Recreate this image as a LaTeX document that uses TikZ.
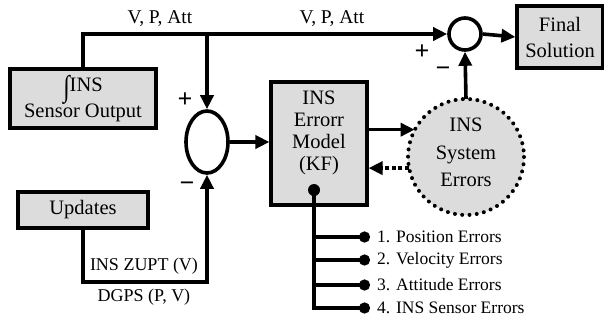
\documentclass[tikz,border=0pt]{standalone}
\usepackage{graphicx}
\usepackage{fontspec}
\setmainfont{Liberation Serif}
\usetikzlibrary{arrows.meta,shapes.geometric}
\definecolor{boxgray}{RGB}{220,220,220}
\newcommand{\bigint}{\raisebox{-0.22em}{\scalebox{1.15}[1.45]{∫}}}
\begin{document}
\begin{tikzpicture}[x=1pt,y=-1pt,
  blk/.style={draw, line width=3.2pt, fill=boxgray, inner sep=0pt, align=center},
  txt/.style={inner sep=0pt, align=center, font=\fontsize{20.5}{26}\selectfont},
  lbl/.style={inner sep=0pt, font=\fontsize{18}{20}\selectfont},
  sml/.style={inner sep=0pt, anchor=west, font=\fontsize{17.5}{20}\selectfont},
  sgn/.style={inner sep=0pt, font=\fontsize{26}{26}\selectfont\bfseries},
  ln/.style={line width=3.6pt},
  arr/.style={ln, -{Triangle[length=14pt,width=13pt]}},
  darr/.style={ln, dash pattern=on 4pt off 2.5pt, -{Triangle[length=14pt,width=13pt]}},
  dotend/.style={ln, -{Circle[length=11pt,width=11pt]}}
]
\useasboundingbox (0,0) rectangle (604,322);

% blocks
\node[blk, minimum width=146pt, minimum height=59pt, txt] (sens) at (83,98.5) {\bigint INS\\[-1pt]Sensor Output};
\node[blk, minimum width=130pt, minimum height=36pt, txt] (upd) at (83,210) {Updates};
\node[blk, minimum width=96pt, minimum height=123pt] (kf) at (319,143.5) {};
\node[txt, font=\fontsize{20.5}{22}\selectfont] (kftext) at (319,133) {INS\\Errorr\\Model\\(KF)};
\node[blk, minimum width=86pt, minimum height=62pt, txt] (fin) at (560,37) {Final\\Solution};
\node[draw, ellipse, line width=3.6pt, fill=white, minimum width=42pt, minimum height=62pt, inner sep=0pt] (ell) at (207,142) {};
\node[draw, circle, line width=3.6pt, fill=white, minimum size=32pt, inner sep=0pt] (sum) at (465,34) {};
\node[circle, fill=boxgray, minimum size=116pt, inner sep=0pt] (err) at (466,157) {};
\draw[line width=4pt, line cap=round, dash pattern=on 0pt off 7.3pt] (err.center) circle (58);
\node[txt, font=\fontsize{20.5}{27.5}\selectfont] (errtext) at (466,152.5) {INS\\System\\Errors};

% connectors
\draw[arr] (sens.north) |- (sum.west);
\draw[arr] (ell.north |- sum.west) -- (ell.north);
\coordinate (uc) at (207,282);
\draw[arr] (upd.south) |- (uc) -- (ell.south);
\draw[arr] (ell.east) -- (ell.east -| kf.west);
\draw[arr] (kf.east |- err.152) -- (err.152);
\draw[darr] (err.191) -- (kf.east |- err.191);
\draw[arr] (err.north) -- (sum.south);
\draw[arr] (sum.east) -- (fin.west);

% KF outputs
\coordinate (kfo) at (314,190);
\coordinate (b1) at (370,237);
\coordinate (b2) at (370,260);
\coordinate (b3) at (370,285);
\coordinate (b4) at (370,308);
\fill (kfo) circle (6);
\draw[dotend] (kfo) |- (b4);
\draw[dotend] (kfo |- b1) -- (b1);
\draw[dotend] (kfo |- b2) -- (b2);
\draw[dotend] (kfo |- b3) -- (b3);
\node[sml] (e1) at (377,237) {1. Position Errors};
\node[sml] (e2) at (377,260) {2. Velocity Errors};
\node[sml] (e3) at (377,285) {3. Attitude Errors};
\node[sml] (e4) at (377,308) {4. INS Sensor Errors};

% labels
\node[lbl, font=\fontsize{19.5}{20}\selectfont] (l1) at (160,19) {V, P, Att};
\node[lbl, font=\fontsize{19.5}{20}\selectfont] (l2) at (332,19) {V, P, Att};
\node[lbl] (l3) at (144,266) {INS ZUPT (V)};
\node[lbl] (l4) at (144,297) {DGPS (P, V)};
\node[sgn] (p1) at (185,100) {+};
\node[sgn] (m1) at (187,187) {−};
\node[sgn] (p2) at (422,52) {+};
\node[sgn] (m2) at (443,72) {−};
\end{tikzpicture}
\end{document}
